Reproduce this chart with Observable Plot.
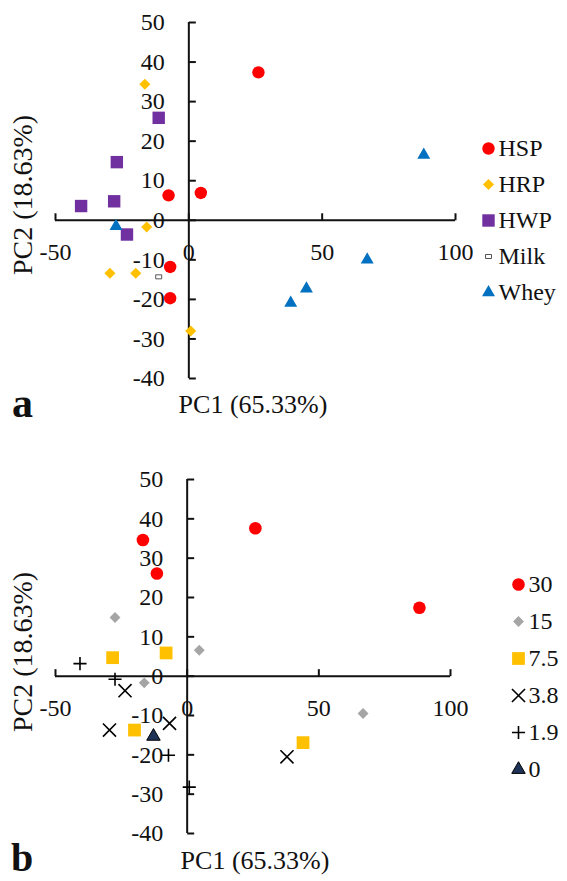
<!DOCTYPE html>
<html><head><meta charset="utf-8">
<script src="https://cdn.jsdelivr.net/npm/d3@7"></script>
<script src="https://cdn.jsdelivr.net/npm/@observablehq/plot@0.6"></script>
<style>
body{margin:0;background:#fff;}
#fig{position:relative;width:567px;height:881px;overflow:hidden;font-family:"Liberation Serif","Times New Roman",serif;color:#111;}
#fig svg, #fig svg text{font-family:"Liberation Serif","Times New Roman",serif !important;}
.abs{position:absolute;white-space:nowrap;line-height:1;font-family:"Liberation Serif","Times New Roman",serif;}
</style></head><body><div id="fig"></div>
<script>
// ---------- shared axis ticks ----------
const xTicks = [-50, 0, 50, 100];
const yTicks = [-40, -30, -20, -10, 0, 10, 20, 30, 40, 50];
const xTitle = "PC1 (65.33%)";
const yTitle = "PC2 (18.63%)";

// ---------- panel a: sample type ----------
const groupsA = ["HSP", "HRP", "HWP", "Milk", "Whey"];
const hspPC1 = [26.1, 4.5, -7.6, -7.0, -7.0];
const hspPC2 = [37.4, 6.9, 6.3, -11.8, -19.7];
const hrpPC1 = [-16.5, -15.8, -29.6, -19.9, 0.7];
const hrpPC2 = [34.4, -1.7, -13.4, -13.4, -28.0];
const hwpPC1 = [-11.3, -27.0, -40.4, -28.0, -23.2];
const hwpPC2 = [25.9, 14.7, 3.6, 4.8, -3.6];
const milkPC1 = [-11.3];
const milkPC2 = [-14.3];
const wheyPC1 = [-27.3, 88.1, 66.9, 44.1, 38.2];
const wheyPC2 = [-1.5, 16.5, -10.0, -17.3, -20.9];

// ---------- panel b: concentration ----------
const groupsB = ["30", "15", "7.5", "3.8", "1.9", "0"];
const c30PC1 = [25.9, 88.2, -16.8, -11.5];
const c30PC2 = [37.6, 17.4, 34.6, 26.1];
const c15PC1 = [-27.4, 4.6, -16.3, 66.8];
const c15PC2 = [14.9, 6.6, -1.7, -9.5];
const c75PC1 = [-28.3, -8.0, -20.0, 44.0];
const c75PC2 = [4.7, 5.9, -13.7, -16.9];
const c38PC1 = [-23.6, -29.5, -6.7, 37.9];
const c38PC2 = [-3.7, -13.7, -12.0, -20.5];
const c19PC1 = [-40.7, -27.4, -7.1, 0.8];
const c19PC2 = [3.2, -0.8, -20.1, -28.2];
const c0PC1 = [-12.8];
const c0PC2 = [-15.3];

// ---------- custom symbols ----------
const milkSym = {draw(ctx) { ctx.rect(-3, -2, 6, 4); }};
const tickRight = {draw(ctx) { ctx.moveTo(0, 0); ctx.lineTo(7, 0); }};
const tickUp = {draw(ctx) { ctx.moveTo(0, 0); ctx.lineTo(0, -7); }};

const FONT = '"Liberation Serif","Times New Roman",serif';
const rows = (name, xs, ys) => xs.map((x, i) => ({group: name, pc1: x, pc2: ys[i]}));

const stylesA = [
  {name: "HSP", data: rows("HSP", hspPC1, hspPC2), symbol: "circle", fill: "#ff0000", stroke: "none", r: 6.2},
  {name: "HRP", data: rows("HRP", hrpPC1, hrpPC2), symbol: "diamond2", fill: "#ffc000", stroke: "none", r: 5},
  {name: "HWP", data: rows("HWP", hwpPC1, hwpPC2), symbol: "square", fill: "#7030a0", stroke: "none", r: 7},
  {name: "Milk", data: rows("Milk", milkPC1, milkPC2), symbol: milkSym, fill: "#fff", stroke: "#555", r: 3, strokeWidth: 1},
  {name: "Whey", data: rows("Whey", wheyPC1, wheyPC2), symbol: "triangle", fill: "#0070c0", stroke: "none", r: 4.8}
];
const stylesB = [
  {name: "30", data: rows("30", c30PC1, c30PC2), symbol: "circle", fill: "#ff0000", stroke: "none", r: 6.3},
  {name: "15", data: rows("15", c15PC1, c15PC2), symbol: "diamond2", fill: "#a5a5a5", stroke: "none", r: 4.9},
  {name: "7.5", data: rows("7.5", c75PC1, c75PC2), symbol: "square", fill: "#ffc000", stroke: "none", r: 7.2},
  {name: "3.8", data: rows("3.8", c38PC1, c38PC2), symbol: "times", fill: "none", stroke: "#000", r: 6, strokeWidth: 1.6},
  {name: "1.9", data: rows("1.9", c19PC1, c19PC2), symbol: "plus", fill: "none", stroke: "#000", r: 4.3, strokeWidth: 1.6},
  {name: "0", data: rows("0", c0PC1, c0PC2), symbol: "triangle", fill: "#1f3358", stroke: "#000", r: 5, strokeWidth: 1}
];

function dotMarks(styles) {
  return styles.map(s => Plot.dot(s.data, {
    x: "pc1", y: "pc2", symbol: s.symbol, fill: s.fill, stroke: s.stroke,
    strokeWidth: s.strokeWidth ?? 1, r: s.r
  }));
}

function panel(styles, {height, marginTop, marginBottom, marginRight}) {
  return Plot.plot({
    width: 567, height, marginLeft: 55, marginRight, marginTop, marginBottom,
    x: {domain: [xTicks[0], xTicks[xTicks.length - 1]], axis: null},
    y: {domain: [yTicks[0], yTicks[yTicks.length - 1]], axis: null},
    style: {fontFamily: FONT, background: "none", overflow: "visible", color: "#111"},
    marks: [
      Plot.ruleY([0], {x1: xTicks[0], x2: xTicks[xTicks.length - 1], stroke: "#111", strokeWidth: 2}),
      Plot.ruleX([0], {y1: yTicks[0], y2: yTicks[yTicks.length - 1], stroke: "#111", strokeWidth: 2}),
      Plot.dot(yTicks, {x: () => 0, y: d => d, symbol: tickRight, fill: "none", stroke: "#111", strokeWidth: 2}),
      Plot.dot(xTicks, {x: d => d, y: () => 0, symbol: tickUp, fill: "none", stroke: "#111", strokeWidth: 2}),
      Plot.text(yTicks, {x: () => 0, y: d => d, text: d => String(d), textAnchor: "end", dx: -24, fontSize: 24, fontFamily: FONT, fill: "#111"}),
      Plot.text(xTicks, {x: d => d, y: () => 0, text: d => String(d), dy: 32, fontSize: 24, fontFamily: FONT, fill: "#111"}),
      ...dotMarks(styles)
    ]
  });
}

function legend(styles, top, bottom, height) {
  const names = styles.map(s => s.name);
  return Plot.plot({
    width: 70, height, margin: 0,
    x: {domain: [0, 1], range: [10, 60], axis: null},
    y: {type: "point", domain: names, range: [top, bottom], axis: null},
    style: {fontFamily: FONT, background: "none", overflow: "visible"},
    marks: [
      ...styles.map(s => Plot.dot([s.name], {x: () => 0, y: d => d, symbol: s.symbol, fill: s.fill, stroke: s.stroke, strokeWidth: s.strokeWidth ?? 1, r: s.r})),
      Plot.text(names, {x: () => 0, y: d => d, text: d => d, textAnchor: "start", dx: 10, fontSize: 24, fontFamily: FONT, fill: "#111"})
    ]
  });
}

const fig = document.getElementById("fig");
function place(node, left, top) {
  node.style.position = "absolute";
  node.style.left = left + "px";
  node.style.top = top + "px";
  fig.appendChild(node);
}
function label(text, css) {
  const d = document.createElement("div");
  d.className = "abs";
  d.textContent = text;
  Object.assign(d.style, css);
  fig.appendChild(d);
}

place(panel(stylesA, {height: 440, marginTop: 22, marginBottom: 62, marginRight: 112}), 0, 0);
place(panel(stylesB, {height: 441, marginTop: 39, marginBottom: 48, marginRight: 117}), 0, 440);
place(legend(stylesA, 28, 212, 240), 478, 100);
place(legend(stylesB, 25, 248, 280), 508, 540);

// axis titles and panel letters
label(xTitle, {left: "253px", top: "405px", fontSize: "26px", transform: "translate(-50%,-50%)"});
label(yTitle, {left: "23px", top: "195px", fontSize: "28px", transform: "translate(-50%,-50%) rotate(-90deg)"});
label(xTitle, {left: "255px", top: "861px", fontSize: "26px", transform: "translate(-50%,-50%)"});
label(yTitle, {left: "23px", top: "652px", fontSize: "28px", transform: "translate(-50%,-50%) rotate(-90deg)"});
label("a", {left: "12px", top: "382px", fontSize: "42px", fontWeight: "bold"});
label("b", {left: "11px", top: "838px", fontSize: "40px", fontWeight: "bold"});
</script></body></html>
